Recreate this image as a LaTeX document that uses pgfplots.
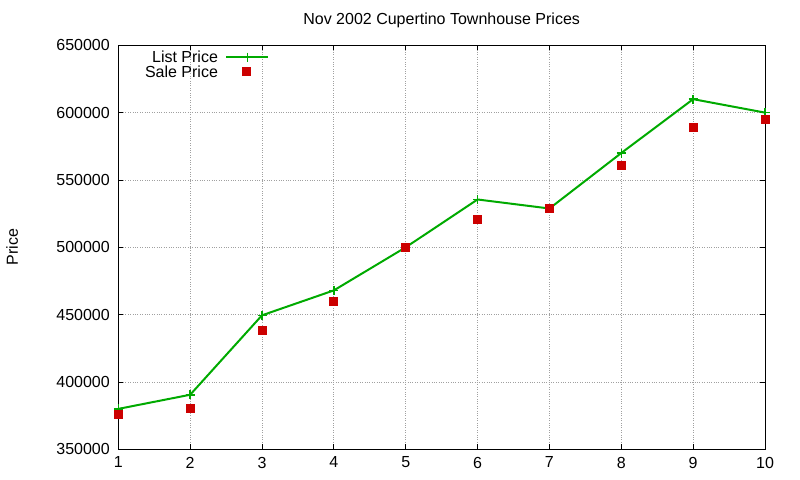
\documentclass[border=0pt]{standalone}
\usepackage{pgfplots}
\pgfplotsset{compat=1.18}
\usepackage{fontspec}
\setmainfont{Liberation Sans}
\definecolor{gpgreen}{RGB}{0,170,0}
\definecolor{gpred}{RGB}{204,0,0}
\definecolor{gpgrid}{RGB}{160,160,160}
\pgfplotsset{
    listleg/.style={legend image code/.code={
        \path (0bp,0bp);
        \draw[##1] (6bp,0bp) -- (48bp,0bp);
        \draw[##1, only marks] plot coordinates {(27bp,0bp)};
    }},
    saleleg/.style={legend image code/.code={
        \path (0bp,0bp);
        \draw[##1] plot coordinates {(26bp,0bp)};
    }},
}
\begin{document}
\fontsize{16bp}{19bp}\selectfont
\begin{tikzpicture}[x=1bp,y=1bp]
\path[use as bounding box] (0,0) rectangle (800,480);
\begin{axis}[
    at={(118.3bp,30.7bp)}, anchor=south west,
    scale only axis,
    width=646.7bp, height=404bp,
    xmin=1, xmax=10, ymin=350000, ymax=650000,
    xtick={1,...,10},
    ytick={350000,400000,...,650000},
    scaled y ticks=false,
    /pgf/number format/.cd, fixed, 1000 sep={}, assume math mode=true,
    /pgfplots/.cd,
    tick align=inside,
    major tick length=5bp,
    tick style={black, line width=0.8bp},
    axis line style={black, line width=1bp},
    grid=major,
    grid style={gpgrid, dotted, line width=0.8bp},
    tick label style={font=\fontsize{16bp}{19bp}\selectfont},
    yticklabel style={xshift=-3bp},
    xticklabel style={yshift=-2bp},
    title={Nov 2002 Cupertino Townhouse Prices},
    title style={font=\fontsize{16bp}{19bp}\selectfont, at={(0.5,1)}, anchor=south, yshift=6bp},
    ylabel={Price},
    ylabel style={font=\fontsize{16bp}{19bp}\selectfont, at={(axis description cs:-0.164,0.5)}, anchor=center},
    legend style={at={(rel axis cs:0,1)}, anchor=north west, xshift=25bp, yshift=-4.5bp,
        draw=none, fill=none, font=\fontsize{16bp}{19bp}\selectfont,
        row sep=0bp, inner sep=0pt,
        nodes={inner sep=1.5bp, text height=11.5bp, text depth=0bp},
        /tikz/every even column/.append style={column sep=0bp}},
    legend cell align=right,
    legend plot pos=right,
]
\addplot[gpgreen, line width=2bp, mark=+, mark size=4.5bp, mark options={line width=1.5bp}, listleg] coordinates {
    (1,380000) (2,390500) (3,449500) (4,468000) (5,500000)
    (6,535500) (7,528800) (8,570000) (9,610000) (10,600000)
};
\addlegendentry{List Price}
\addplot[only marks, mark=square*, mark size=4bp, gpred, mark options={draw=gpred, fill=gpred, line width=0pt}, saleleg] coordinates {
    (1,376000) (2,380000) (3,438500) (4,460000) (5,499500)
    (6,520300) (7,528500) (8,560500) (9,589300) (10,595000)
};
\addlegendentry{Sale Price}
\end{axis}
\end{tikzpicture}
\end{document}
